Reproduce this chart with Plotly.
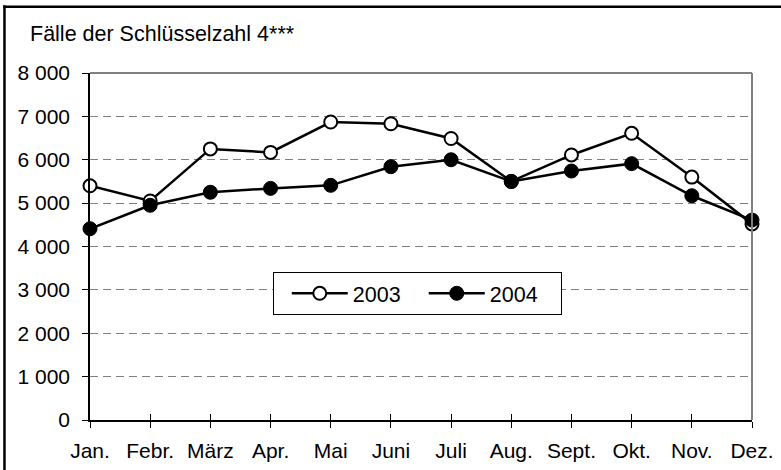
import plotly.graph_objects as go

months = ["Jan.", "Febr.", "März", "Apr.", "Mai", "Juni", "Juli", "Aug.", "Sept.", "Okt.", "Nov.", "Dez."]
y2003 = [5400, 5050, 6250, 6170, 6870, 6830, 6490, 5500, 6110, 6610, 5600, 4520]
y2004 = [4410, 4950, 5250, 5340, 5410, 5840, 6000, 5500, 5740, 5910, 5170, 4610]
title_text = "Fälle der Schlüsselzahl 4***"

FONT = "Liberation Sans, Arial, sans-serif"

fig = go.Figure()
fig.add_trace(go.Scatter(
    x=months, y=y2003, name="2003", mode="lines+markers",
    line=dict(color="black", width=2.5),
    marker=dict(symbol="circle", size=13, color="white", line=dict(color="black", width=2)),
    cliponaxis=False,
))
fig.add_trace(go.Scatter(
    x=months, y=y2004, name="2004", mode="lines+markers",
    line=dict(color="black", width=2.5),
    marker=dict(symbol="circle", size=14, color="black", line=dict(color="black", width=1)),
    cliponaxis=False,
))
# invisible helper trace for the inner part of crossing x ticks
fig.add_trace(go.Scatter(
    x=months, y=y2004, xaxis="x2", mode="markers", marker=dict(opacity=0),
    showlegend=False, hoverinfo="skip",
))

fig.update_layout(
    width=781, height=470,
    margin=dict(l=90, r=29, t=73, b=50, autoexpand=False),
    paper_bgcolor="white", plot_bgcolor="white",
    font=dict(family=FONT, size=21, color="black"),
    separators=", ",
    showlegend=True,
    legend=dict(
        orientation="h", x=0.2764, y=0.427, xanchor="left", yanchor="top",
        bordercolor="black", borderwidth=1, bgcolor="white",
        font=dict(size=21.5), itemwidth=56, entrywidth=66, entrywidthmode="pixels",
        title=dict(text="&nbsp;", side="left", font=dict(size=10)),
    ),
    xaxis=dict(
        type="category", range=[0, 11], showgrid=False, automargin=False,
        showline=True, linecolor="black", linewidth=1.5,
        ticks="outside", ticklen=6, tickcolor="black", tickwidth=1,
        ticklabelstandoff=5, zeroline=False, tickfont=dict(size=21),
    ),
    xaxis2=dict(
        type="category", range=[0, 11], overlaying="x", anchor="y", side="bottom",
        showgrid=False, showline=False, ticks="inside", ticklen=6, tickcolor="black",
        tickwidth=1, showticklabels=False, zeroline=False, automargin=False,
    ),
    yaxis=dict(
        range=[0, 8000], dtick=1000, tickformat=",d", automargin=False,
        showgrid=True, gridcolor="#808080", gridwidth=1.2, griddash="8px,5px",
        showline=True, linecolor="black", linewidth=1.5,
        ticks="outside", ticklen=6, tickcolor="black", tickwidth=1,
        zeroline=False, ticklabelstandoff=8, tickfont=dict(size=21),
    ),
    annotations=[dict(
        text=title_text, xref="paper", yref="paper", x=-0.0937, y=1.113,
        xanchor="left", yanchor="middle", showarrow=False, font=dict(size=21.5),
    )],
    shapes=[
        dict(type="line", xref="paper", yref="paper", x0=0, x1=1, y0=1, y1=1,
             line=dict(color="#808080", width=2)),
        dict(type="line", xref="paper", yref="paper", x0=1, x1=1, y0=0, y1=1,
             line=dict(color="#808080", width=2)),
        dict(type="line", xref="paper", yref="paper", x0=-0.131, x1=1.1, y0=1.1912, y1=1.1912,
             line=dict(color="black", width=2.5)),
        dict(type="line", xref="paper", yref="paper", x0=-0.1292, x1=-0.1292, y0=1.195, y1=-0.2,
             line=dict(color="black", width=2.5)),
    ],
)

fig.write_html("out.html", config={"displayModeBar": False},
               post_script="document.body.style.margin='0';document.body.style.padding='0';")
